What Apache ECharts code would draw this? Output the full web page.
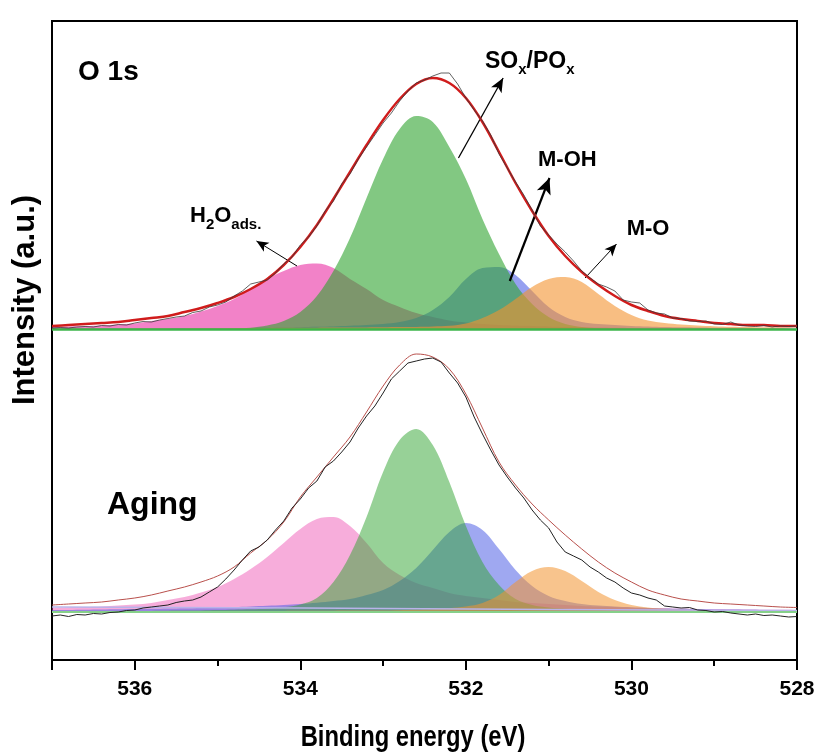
<!DOCTYPE html>
<html>
<head>
<meta charset="utf-8">
<script src="https://cdn.jsdelivr.net/npm/echarts@6/dist/echarts.min.js"></script>
<style>
  html, body { margin: 0; padding: 0; background: #fff; }
  #chart { width: 821px; height: 755px; }
</style>
</head>
<body>
<div id="chart"></div>
<script>
// Binding energy grids (eV): fitted curves and measured spectra
const energyFit = [537.0,536.8,536.6,536.4,536.2,536.0,535.8,535.6,535.4,535.2,535.0,534.8,534.6,534.4,534.2,534.0,533.8,533.6,533.4,533.2,533.0,532.8,532.6,532.4,532.2,532.0,531.8,531.6,531.4,531.2,531.0,530.8,530.6,530.4,530.2,530.0,529.8,529.6,529.4,529.2,529.0,528.8,528.6,528.4,528.2,528.0];
const energyRaw = [537.0,536.9,536.8,536.7,536.6,536.5,536.4,536.3,536.2,536.1,536.0,535.9,535.8,535.7,535.6,535.5,535.4,535.3,535.2,535.1,535.0,534.9,534.8,534.7,534.6,534.5,534.4,534.3,534.2,534.1,534.0,533.9,533.8,533.7,533.6,533.5,533.4,533.3,533.2,533.1,533.0,532.9,532.8,532.7,532.6,532.5,532.4,532.3,532.2,532.1,532.0,531.9,531.8,531.7,531.6,531.5,531.4,531.3,531.2,531.1,531.0,530.9,530.8,530.7,530.6,530.5,530.4,530.3,530.2,530.1,530.0,529.9,529.8,529.7,529.6,529.5,529.4,529.3,529.2,529.1,529.0,528.9,528.8,528.7,528.6,528.5,528.4,528.3,528.2,528.1,528.0];

// O 1s, fresh sample: fitted components (a.u.)
const freshH2O = [2,2.5,3,3.5,4.5,5.5,8,10,13,17.5,23,30,40,50,58,64,65.5,61,50,40,29,22,16,12,8.5,6.5,5,4,3.5,3,2.5,2,1.8,1.5,1.3,1.1,1,0.9,0.8,0.8,0.7,0.7,0.6,0.6,0.5,0.5];
const freshMOH = [0.5,0.5,0.6,0.6,0.7,0.7,0.8,0.8,0.9,0.9,1.0,1.0,1.1,1.3,1.5,1.8,2.2,2.6,3.2,4,5,7,11,19,32,50,61,62,54,38,22,12,7,5,4,3,2.5,2,1.7,1.5,1.3,1.2,1.1,1.0,0.9,0.8];
const freshSOx = [0,0,0,0,0,0,0,0,0,0,0.1,0.3,1.3,3.5,8,17,33,58,91,131,170,200,213,207,182,150,110,75,45,25,12,5,2,0.7,0.2,0,0,0,0,0,0,0,0,0,0,0];
const freshMO  = [0.5,0.5,0.5,0.6,0.6,0.7,0.7,0.8,0.8,0.9,0.9,1.0,1.0,1.1,1.2,1.2,1.3,1.4,1.5,1.6,1.7,1.9,2.1,2.5,3.2,5.5,11,19,30,42,50,52,47,35,23,14,8.5,6,4.5,3.5,2.8,2.3,2,1.7,1.5,1.3];
const freshEnvelope = [3,4,5,6,7,9,11,13,17,21,26,32,40,50,64,82,104,130,157,184,209,230,245,251,246,231,207,177,146,118,93,73,57,44,33,24,18,13,10,8,6,5,4,4,3,3];
const freshRaw = [1,1.5,1,2,2.5,2,3.5,3,4.5,4,6,7.5,7,9,10.5,12,13,16.5,18,22,24,27,33,38,45,47,49,56,65,72,84,92,103,118,128,145,155,170,182,194,206,216,228,238,246,249,253,256,256,245,231,219,208,194,175,161,147,134,119,103,94,85,77,68,58,51,45,42,38,29,27,26,19,16,15,11,10.5,8,7.5,8,5,4.5,7,4,3,2.5,3.5,2,3,2.5,3];

// O 1s, aged sample: fitted components (a.u.)
const agingH2O = [4,4.5,5,5.5,6.5,7.5,9,12,15,19.5,25,33,43,55,69,83,93,95,86,69,49,37,29,24,19,16,14,12,10,9,8,7,6,5.5,5,4.5,4,3.7,3.4,3.1,2.9,2.7,2.5,2.3,2.2,2];
const agingMOH = [2,2.1,2.3,2.5,2.7,2.9,3.2,3.5,3.8,4.1,4.5,5,5.5,6.2,7,8,9.3,11,13,17,22,31,44,62,80,89,82,63,42,26,16,11,8,6.5,5.5,4.7,4.1,3.6,3.2,2.9,2.6,2.4,2.2,2,1.9,1.8];
const agingSOx = [0.6,0.65,0.7,0.8,0.9,1.0,1.1,1.25,1.4,1.6,1.9,2.3,2.7,3.3,4.7,7.4,14,30,57,95,140,172,183,167,130,86,50,27,13,7,4.4,3.2,2.6,2.1,1.8,1.5,1.4,1.2,1.1,0.9,0.85,0.8,0.75,0.7,0.65,0.6];
const agingMO  = [0.5,0.5,0.55,0.6,0.6,0.65,0.7,0.75,0.8,0.85,0.9,0.95,1.0,1.05,1.1,1.2,1.25,1.3,1.4,1.45,1.5,1.8,2.2,2.8,3.8,5.5,9,17,30,41,45,41,31,20,12,7,4.5,3.2,2.5,2,1.7,1.5,1.3,1.2,1.1,1];
const agingEnvelope = [7,8,9,10,12,14,17,21,25,30,36,45,59,72,90,115,135,155,175,200,226,247,258,255,243,218,184,150,127,108,92,77,63,50,39,30,22,17,13,11,9,8,7,6,5,4.5];
const agingRaw = [-4,-3,-4.5,-2.5,-3,-1.5,-2,-0.5,0,1.5,2,4,5,6,7,9.5,11,12,15,20,25,33,42,52,61,65,72,82,91,104,113,124,131,145,151,160,170,184,196,206,219,233,241,249,251,253,254,250,239,229,215,195,178,162,147,135,124,114,102,92,84,70,60,56,52,45,40,34,30,24,19,17,14,12,6,5,4,4.5,2,1.5,0,0.5,-1,-2,-3,-2,-3.5,-3,-4,-5,-4.5];
const agingBackgroundEnergy = [537, 534, 531, 528];
const agingBackground = [5, 4, 2.5, 1.5];

// Annotation arrows, [tail, head] as [eV, intensity] on the fresh spectrum
const arrowSOx = [[532.09, 171], [531.55, 251]];
const arrowMOH = [[531.47, 48], [530.99, 151]];
const arrowMO  = [[530.56, 51], [530.18, 85]];
const arrowH2O = [[534.04, 63], [534.53, 88]];

const FONT = "'Liberation Sans', Arial, Helvetica, sans-serif";

function pairs(xs, ys) {
  return xs.map(function (x, i) { return [x, ys[i]]; });
}

function component(name, values, color, opacity, yIndex) {
  return {
    name: name, type: 'line', yAxisIndex: yIndex,
    data: pairs(energyFit, values),
    smooth: 0.35, showSymbol: false, symbol: 'none', silent: true,
    lineStyle: { width: 0 },
    areaStyle: { color: color, opacity: opacity },
    z: 2
  };
}

function curve(name, xs, values, color, width, yIndex, smooth, z) {
  return {
    name: name, type: 'line', yAxisIndex: yIndex,
    data: pairs(xs, values),
    smooth: smooth, showSymbol: false, symbol: 'none', silent: true,
    lineStyle: { color: color, width: width },
    z: z
  };
}

function baseline(color, width) {
  return {
    silent: true, symbol: 'none', label: { show: false },
    lineStyle: { color: color, width: width, type: 'solid' },
    data: [{ yAxis: 0 }]
  };
}

function arrow(points, width, head) {
  return [
    { coord: points[0], symbol: 'none' },
    { coord: points[1], symbol: 'arrow', symbolSize: head,
      lineStyle: { color: '#000', width: width, type: 'solid' } }
  ];
}

const chart = echarts.init(document.getElementById('chart'), null, { renderer: 'canvas' });

const freshPink = component('H2O ads.', freshH2O, 'rgb(233,47,163)', 0.6, 0);
freshPink.markLine = baseline('#3cb44a', 2.5);
const agingPink = component('H2O ads. (aging)', agingH2O, 'rgb(235,60,170)', 0.42, 1);
agingPink.markLine = baseline('#86d08a', 2);

const freshFit = curve('Fit', energyFit, freshEnvelope, '#d01c1c', 2.5, 0, 0.35, 5);
freshFit.markLine = {
  silent: true, animation: false, label: { show: false },
  lineStyle: { color: '#000', width: 1, type: 'solid' },
  data: [
    arrow(arrowSOx, 1.3, [9, 14]),
    arrow(arrowMOH, 2.2, [11, 16]),
    arrow(arrowMO, 1, [8, 12]),
    arrow(arrowH2O, 1, [8, 12])
  ]
};

const mainStyle = { fontSize: 22, lineHeight: 22, fontWeight: 'bold', fontFamily: FONT, fill: '#000', verticalAlign: 'top' };
const subStyle = { fontSize: 15, lineHeight: 15, fontWeight: 'bold', fontFamily: FONT, fill: '#000', verticalAlign: 'top', padding: [12, 0, 0, 0] };

function label(x, y, text, size) {
  return {
    type: 'text', x: x, y: y, silent: true,
    style: { text: text, fontSize: size, fontWeight: 'bold', fontFamily: FONT, fill: '#000', align: 'left', verticalAlign: 'top' }
  };
}

const option = {
  animation: false,
  backgroundColor: '#fff',
  grid: { left: 52, right: 24, top: 21, bottom: 95, show: true, borderColor: '#000', borderWidth: 2, backgroundColor: 'transparent' },
  xAxis: {
    type: 'value', min: 528, max: 537, interval: 2, inverse: true,
    axisLine: { show: true, onZero: false, lineStyle: { color: '#000', width: 2 } },
    axisTick: { show: true, length: 10, lineStyle: { color: '#000', width: 2 } },
    minorTick: { show: true, splitNumber: 2, length: 6, lineStyle: { color: '#000', width: 2 } },
    splitLine: { show: false },
    axisLabel: { color: '#000', fontSize: 21, fontWeight: 'bold', fontFamily: FONT, margin: 19, showMaxLabel: false }
  },
  yAxis: [
    { type: 'value', min: -331, max: 308, show: false, splitLine: { show: false } },
    { type: 'value', min: -48, max: 591, show: false, splitLine: { show: false } }
  ],
  graphic: [
    { type: 'text', x: 25, y: 300, rotation: Math.PI / 2, silent: true,
      style: { text: 'Intensity (a.u.)', fontSize: 31, fontWeight: 'bold', fontFamily: FONT, fill: '#000', align: 'center', verticalAlign: 'middle' } },
    { type: 'text', x: 413, y: 738, scaleX: 0.82, silent: true,
      style: { text: 'Binding energy (eV)', fontSize: 29, fontWeight: 'bold', fontFamily: FONT, fill: '#000', align: 'center', verticalAlign: 'middle' } },
    { type: 'text', x: 78, y: 72, silent: true,
      style: { text: 'O 1s', fontSize: 28, fontWeight: 'bold', fontFamily: FONT, fill: '#000', align: 'left', verticalAlign: 'middle' } },
    { type: 'text', x: 107, y: 505, silent: true,
      style: { text: 'Aging', fontSize: 32, fontWeight: 'bold', fontFamily: FONT, fill: '#000', align: 'left', verticalAlign: 'middle' } },
    { type: 'text', x: 485, y: 50.5, silent: true,
      style: { text: '{m|SO}{s|x}{m|/PO}{s|x}', align: 'left', verticalAlign: 'top',
        rich: { m: Object.assign({}, mainStyle, { fontSize: 23, lineHeight: 23 }), s: subStyle } } },
    { type: 'text', x: 190, y: 205.4, silent: true,
      style: { text: '{m|H}{s|2}{m|O}{s|ads.}', align: 'left', verticalAlign: 'top',
        rich: { m: mainStyle, s: subStyle } } },
    label(538, 148.8, 'M-OH', 22),
    label(626.7, 217.8, 'M-O', 22)
  ],
  series: [
    freshPink,
    component('M-OH', freshMOH, 'rgb(80,97,230)', 0.6, 0),
    component('SOx/POx', freshSOx, 'rgb(47,163,47)', 0.6, 0),
    component('M-O', freshMO, 'rgb(243,147,47)', 0.6, 0),
    freshFit,
    curve('Raw', energyRaw, freshRaw, '#3a3a3a', 0.8, 0, false, 6),

    agingPink,
    component('M-OH (aging)', agingMOH, 'rgb(80,97,230)', 0.55, 1),
    component('SOx/POx (aging)', agingSOx, 'rgb(47,163,47)', 0.5, 1),
    component('M-O (aging)', agingMO, 'rgb(243,147,47)', 0.55, 1),
    curve('Background (aging)', agingBackgroundEnergy, agingBackground, '#b9b3ea', 1.5, 1, false, 3),
    curve('Fit (aging)', energyFit, agingEnvelope, '#b9504c', 1, 1, 0.35, 5),
    curve('Raw (aging)', energyRaw, agingRaw, '#222', 1, 1, false, 6)
  ]
};

chart.setOption(option);
</script>
</body>
</html>
